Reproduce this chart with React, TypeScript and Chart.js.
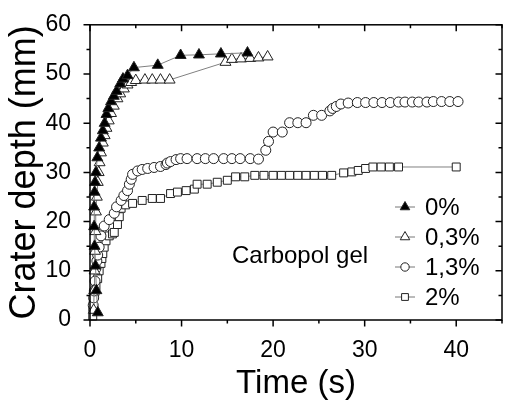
import React, { useEffect, useRef } from 'react';
import { Chart, registerables } from 'chart.js';
import { drawPoint } from 'chart.js/helpers';

Chart.register(...registerables);

// ---- data ----
const seriesNames = ['0%', '0,3%', '1,3%', '2%'];

const time0 = [0.85, 0.7, 0.6, 0.5, 0.45, 0.45, 0.5, 0.55, 0.65, 0.8, 1.0, 1.2, 1.4, 1.6, 1.8, 2.0, 2.3, 2.6, 2.9, 3.3, 3.6, 4.1, 4.8, 7.4, 9.9, 11.9, 14.3, 17.2];
const depth0 = [1.5, 6, 11, 15, 19, 23, 26, 28, 30, 33, 35, 37, 38.5, 40, 41.8, 43, 44.4, 45.5, 46.5, 48, 49, 49.7, 51.3, 51.8, 53.8, 53.9, 54.1, 54.3];

const time03 = [0.4, 0.45, 0.5, 0.55, 0.6, 0.65, 0.75, 0.85, 0.95, 1.05, 1.2, 1.4, 1.6, 1.8, 2.05, 2.3, 2.6, 3.0, 3.3, 3.7, 4.1, 4.5, 5.0, 6.0, 6.8, 7.7, 8.7, 14.8, 15.5, 16.5, 17.5, 18.4, 19.4];
const depth03 = [2, 6, 10, 14, 18, 22, 25, 28, 30, 32, 34, 36, 37.5, 39, 40.5, 42, 43.5, 45, 46, 47, 47.8, 48.3, 48.7, 48.8, 48.8, 48.8, 48.8, 52.4, 53, 53.1, 53.2, 53.3, 53.5];

const time13 = [0.35, 0.4, 0.47, 0.55, 0.65, 0.75, 0.84, 1.0, 1.2, 1.55, 2.1, 2.65, 2.9, 3.4, 3.7, 4.1, 4.3, 4.5, 4.65, 5.2, 5.7, 6.3, 7.0, 7.7, 8.3, 8.45, 8.8, 9.4, 9.9, 10.6, 11.7, 12.6, 13.5, 14.6, 15.5, 16.4, 17.5, 18.4, 19.2, 19.5, 20.0, 21.0, 21.8, 22.7, 23.6, 24.4, 25.3, 26.2, 26.5, 26.9, 27.4, 28.2, 29.2, 30.1, 31.0, 31.9, 32.8, 33.7, 34.4, 35.2, 35.9, 36.8, 37.5, 38.4, 39.3, 40.2];
const depth13 = [3, 4.5, 5.9, 7.9, 10.5, 12, 13.2, 14.8, 17.1, 19.1, 20.4, 21.7, 23, 24.3, 25.3, 26.3, 27.6, 28.6, 29.6, 30.3, 30.6, 30.8, 31, 31.2, 31.6, 31.9, 32.2, 32.6, 32.8, 32.8, 32.8, 32.8, 32.8, 32.8, 32.8, 32.8, 32.8, 32.7, 34.5, 36.3, 38.2, 38.2, 40.1, 40.1, 40.1, 41.6, 41.6, 42.5, 43, 43.4, 43.9, 44.1, 44.2, 44.2, 44.2, 44.2, 44.2, 44.3, 44.3, 44.3, 44.3, 44.3, 44.4, 44.4, 44.4, 44.4];

const time2 = [0.3, 0.3, 0.35, 0.47, 0.55, 0.65, 0.84, 1.0, 1.2, 1.3, 1.4, 1.55, 1.75, 2.1, 2.45, 2.65, 3.0, 3.2, 3.4, 3.9, 4.65, 5.7, 6.8, 7.7, 8.8, 9.55, 10.5, 11.4, 11.7, 12.8, 13.9, 15.0, 15.9, 16.9, 18.0, 19.0, 20.0, 20.9, 21.8, 22.7, 23.6, 24.5, 25.4, 26.4, 27.7, 28.6, 29.3, 30.1, 30.9, 31.8, 32.7, 33.7, 40.0];
const depth2 = [0.8, 2.5, 3.5, 4.9, 5.8, 6.9, 8.4, 10, 11.5, 12.5, 13.5, 14.8, 16.1, 17.1, 17.5, 17.8, 19.4, 21, 22.7, 23.4, 23.7, 24.3, 24.7, 24.7, 25.7, 26, 26.3, 26.6, 27.6, 27.6, 28, 28.4, 29.1, 29.1, 29.4, 29.4, 29.4, 29.4, 29.4, 29.4, 29.4, 29.4, 29.4, 29.4, 29.9, 30.1, 30.4, 30.8, 31.1, 31.1, 31.1, 31.1, 31.1];

const xTicks = [0, 10, 20, 30, 40];
const xMinorTicks = [5, 15, 25, 35, 45];
const yTicks = [0, 10, 20, 30, 40, 50, 60];
const yMinorTicks = [5, 15, 25, 35, 45, 55];

const annotationText = 'Carbopol gel';
const xTitle = 'Time (s)';
const yTitle = 'Crater depth (mm)';

const FONT = '"Liberation Sans", Arial, sans-serif';

const pts = (t: number[], d: number[]) => t.map((v, i) => ({ x: v, y: d[i] }));

const styles = [
  { pointStyle: 'triangle', fill: '#000000', radius: 6.3 },
  { pointStyle: 'triangle', fill: '#ffffff', radius: 6.3 },
  { pointStyle: 'circle', fill: '#ffffff', radius: 5 },
  { pointStyle: 'rect', fill: '#ffffff', radius: 5.6 },
];

const framePlugin = {
  id: 'frame',
  afterDraw(chart: any) {
    const { ctx, chartArea: a, scales } = chart;
    const xs = scales.x;
    const ys = scales.y;
    ctx.save();
    ctx.strokeStyle = '#000';
    ctx.lineWidth = 1.5;
    ctx.strokeRect(a.left, a.top, a.right - a.left, a.bottom - a.top);
    const major = 6.5;
    const minor = 3.5;
    const tickX = (v: number, len: number) => {
      const px = xs.getPixelForValue(v);
      ctx.beginPath();
      ctx.moveTo(px, a.bottom);
      ctx.lineTo(px, a.bottom + len);
      ctx.moveTo(px, a.top);
      ctx.lineTo(px, a.top + len);
      ctx.stroke();
    };
    const tickY = (v: number, len: number) => {
      const py = ys.getPixelForValue(v);
      ctx.beginPath();
      ctx.moveTo(a.left, py);
      ctx.lineTo(a.left - len, py);
      ctx.moveTo(a.right, py);
      ctx.lineTo(a.right - len, py);
      ctx.stroke();
    };
    xTicks.forEach((v) => tickX(v, major));
    xMinorTicks.forEach((v) => tickX(v, minor));
    yTicks.forEach((v) => tickY(v, major));
    yMinorTicks.forEach((v) => tickY(v, minor));

    // annotation
    ctx.fillStyle = '#000';
    ctx.font = `24px ${FONT}`;
    ctx.textBaseline = 'middle';
    ctx.textAlign = 'left';
    ctx.fillText(annotationText, 232, 256);

    // legend
    const lx = 395;
    const ly0 = 207;
    const dy = 30;
    chart.data.datasets.forEach((ds: any, i: number) => {
      const y = ly0 + i * dy;
      ctx.strokeStyle = '#777';
      ctx.lineWidth = 1;
      ctx.beginPath();
      ctx.moveTo(lx, y);
      ctx.lineTo(lx + 20, y);
      ctx.stroke();
      ctx.fillStyle = ds.pointBackgroundColor;
      ctx.strokeStyle = ds.pointBorderColor;
      ctx.lineWidth = 1;
      drawPoint(ctx, { pointStyle: ds.pointStyle, radius: ds.pointRadius - 0.8, borderWidth: 1, rotation: 0 }, lx + 10, y);
      ctx.fillStyle = '#000';
      ctx.font = `24px ${FONT}`;
      ctx.textBaseline = 'middle';
      ctx.fillText(seriesNames[i], lx + 30, y + 1);
    });
    ctx.restore();
  },
};

export default function App() {
  const ref = useRef<HTMLCanvasElement | null>(null);
  useEffect(() => {
    if (!ref.current) return;
    const all = [pts(time0, depth0), pts(time03, depth03), pts(time13, depth13), pts(time2, depth2)];
    const chart = new Chart(ref.current, {
      type: 'scatter',
      data: {
        datasets: all.map((d, i) => ({
          label: seriesNames[i],
          data: d,
          showLine: true,
          borderColor: '#808080',
          borderWidth: 1,
          pointStyle: styles[i].pointStyle as any,
          pointRadius: styles[i].radius,
          pointBackgroundColor: styles[i].fill,
          pointBorderColor: '#222222',
          pointBorderWidth: 1,
          clip: false as any,
        })),
      },
      options: {
        animation: false,
        responsive: false,
        layout: { padding: { top: 16, right: 8, left: 0, bottom: 0 } },
        plugins: { legend: { display: false }, tooltip: { enabled: false } },
        scales: {
          x: {
            type: 'linear',
            min: 0,
            max: 45,
            grid: { display: false },
            border: { display: false },
            afterBuildTicks: (s: any) => { s.ticks = xTicks.map((v) => ({ value: v })); },
            afterFit: (s: any) => { s.height = 85; },
            ticks: { color: '#000', font: { family: FONT, size: 23 }, padding: 9, maxRotation: 0 },
            title: { display: true, text: xTitle, color: '#000', font: { family: FONT, size: 33, lineHeight: 1 }, padding: { top: 0, bottom: 5 } },
          },
          y: {
            type: 'linear',
            min: 0,
            max: 60,
            grid: { display: false },
            border: { display: false },
            afterBuildTicks: (s: any) => { s.ticks = yTicks.map((v) => ({ value: v })); },
            afterFit: (s: any) => { s.width = 90; },
            ticks: { color: '#000', font: { family: FONT, size: 23 }, padding: 11 },
            title: { display: true, text: yTitle, color: '#000', font: { family: FONT, size: 36, lineHeight: 1 }, padding: { top: 7, bottom: 0 } },
          },
        },
      },
      plugins: [framePlugin],
    });
    return () => chart.destroy();
  }, []);
  return (
    <div style={{ position: 'fixed', left: 0, top: 0, width: 510, height: 405, background: '#fff' }}>
      <canvas ref={ref} width={510} height={405} style={{ display: 'block' }} />
    </div>
  );
}
